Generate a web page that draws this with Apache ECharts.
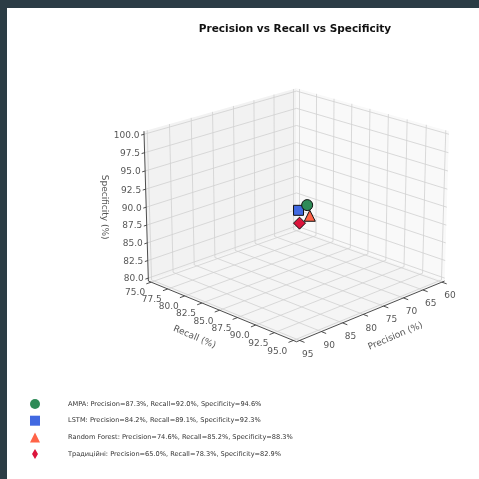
<!DOCTYPE html>
<html><head><meta charset="utf-8">
<script src="https://cdn.jsdelivr.net/npm/echarts@6/dist/echarts.min.js"></script>
<style>
html,body{margin:0;padding:0;background:#2b3c45;width:479px;height:479px;overflow:hidden}
#chart{position:absolute;left:7px;top:8px;width:472px;height:471px;background:#fff}
</style></head><body><div id="chart"></div>
<script>
// ---- data ----
const models = ['AMPA', 'LSTM', 'Random Forest', 'Традиційні'];
const precision = [87.3, 84.2, 74.6, 65.0];
const recall = [92.0, 89.1, 85.2, 78.3];
const specificity = [94.6, 92.3, 88.3, 82.9];
const precisionTicks = [60, 65, 70, 75, 80, 85, 90, 95];
const recallTicks = [75, 77.5, 80, 82.5, 85, 87.5, 90, 92.5, 95];
const specTicks = [80, 82.5, 85, 87.5, 90, 92.5, 95, 97.5, 100];
const P_LIM = [60, 95], R_LIM = [75, 95], S_LIM = [80, 100];

// ---- style ----
const colors = ['#2E8B57', '#4169E1', '#FF6347', '#DC143C'];
const symbols = ['circle', 'rect', 'triangle', 'diamond'];
const sizes = [11, 10, 11, 12];
const zOrder = [8, 6, 5, 7];
const legendIcons = ['circle', 'rect', 'triangle', 'path://M5,0L8,5L5,10L2,5Z'];
const FONT = 'DejaVu Sans';

// ---- 3D projection (matplotlib-like perspective view) ----
const DEG = Math.PI / 180;
const ELEV = 20, AZIM = 45, DIST = 10;
const BOX = [4, 4, 3].map(v => v * 1.8294640721620434 / Math.sqrt(41));
const SCALE = 186, CX = 296.5, CY = 207.2;
function padded(l) { const p = (l[1] - l[0]) / 48; return [l[0] - p, l[1] + p]; }
const PL = padded(P_LIM), RL = padded(R_LIM), SL = padded(S_LIM);
function frac(v, L) { return (v - L[0]) / (L[1] - L[0]) - 0.5; }
function proj(p, r, s) {
  const x = frac(p, PL) * BOX[0], y = frac(r, RL) * BOX[1], z = frac(s, SL) * BOX[2];
  const e = ELEV * DEG, a = AZIM * DEG;
  const ce = Math.cos(e), se = Math.sin(e), ca = Math.cos(a), sa = Math.sin(a);
  const depth = x * ce * ca + y * ce * sa + z * se;
  const f = DIST / (DIST - depth);
  const X = (-x * sa + y * ca) * f;
  const Y = (-x * se * ca - y * se * sa + z * ce) * f;
  return [CX + SCALE * X, CY - SCALE * Y];
}
const add = (a, d) => [a[0] + d[0], a[1] + d[1]];
const seg = (a, b) => ({ coords: [proj(...a), proj(...b)] });

// panes
const panes = [
  { pts: [[PL[0], RL[0], SL[0]], [PL[1], RL[0], SL[0]], [PL[1], RL[1], SL[0]], [PL[0], RL[1], SL[0]]], color: '#f5f5f5' },
  { pts: [[PL[0], RL[0], SL[0]], [PL[1], RL[0], SL[0]], [PL[1], RL[0], SL[1]], [PL[0], RL[0], SL[1]]], color: '#f2f2f2' },
  { pts: [[PL[0], RL[0], SL[0]], [PL[0], RL[1], SL[0]], [PL[0], RL[1], SL[1]], [PL[0], RL[0], SL[1]]], color: '#f9f9f9' }
];

// grid lines
const gridLines = [];
precisionTicks.forEach(p => {
  gridLines.push(seg([p, RL[0], SL[0]], [p, RL[0], SL[1]]));
  gridLines.push(seg([p, RL[0], SL[0]], [p, RL[1], SL[0]]));
});
recallTicks.forEach(r => {
  gridLines.push(seg([PL[0], r, SL[0]], [PL[0], r, SL[1]]));
  gridLines.push(seg([PL[0], r, SL[0]], [PL[1], r, SL[0]]));
});
specTicks.forEach(s => {
  gridLines.push(seg([PL[0], RL[0], s], [PL[1], RL[0], s]));
  gridLines.push(seg([PL[0], RL[0], s], [PL[0], RL[1], s]));
});

// axis lines & tick marks
const dP = (PL[1] - PL[0]) * 0.03, dR = (RL[1] - RL[0]) * 0.03;
const axisLines = [
  seg([PL[1], RL[0], SL[0]], [PL[1], RL[0], SL[1]]),
  seg([PL[1], RL[0], SL[0]], [PL[1], RL[1], SL[0]]),
  seg([PL[1], RL[1], SL[0]], [PL[0], RL[1], SL[0]])
];
const tickMarks = [];
specTicks.forEach(s => tickMarks.push(seg([PL[1], RL[0], s], [PL[1] + dP * 0.6, RL[0], s])));
recallTicks.forEach(r => tickMarks.push(seg([PL[1], r, SL[0]], [PL[1] + dP, r, SL[0]])));
precisionTicks.forEach(p => tickMarks.push(seg([p, RL[1], SL[0]], [p, RL[1] + dR, SL[0]])));

// tick labels
const zLabels = specTicks.map(s => ({ value: add(proj(PL[1], RL[0], s), [0, 1]), name: s.toFixed(1) }));
const rLabels = recallTicks.map(r => ({ value: add(proj(PL[1], r, SL[0]), [-16, 11]), name: r.toFixed(1) }));
const pLabels = precisionTicks.map(p => ({ value: add(proj(p, RL[1], SL[0]), [8, 14]), name: String(p) }));

const textSeries = (data, extra) => Object.assign({
  type: 'scatter', data, symbolSize: 1, silent: true, z: 3,
  itemStyle: { color: 'rgba(0,0,0,0)' },
  label: { show: true, position: 'inside', formatter: '{b}', color: '#2b2b2b', fontSize: 9, fontFamily: FONT }
}, extra || {});

const midR = (RL[0] + RL[1]) / 2, midP = (PL[0] + PL[1]) / 2, midS = (SL[0] + SL[1]) / 2;
const titleItems = [
  { value: add(proj(PL[1], RL[0], midS), [-42, 0]), name: 'Specificity (%)', rot: -90 },
  { value: add(proj(PL[1], midR, SL[0]), [-25, 27]), name: 'Recall (%)', rot: -23 },
  { value: add(proj(midP, RL[1], SL[0]), [22, 26]), name: 'Precision (%)', rot: 23 }
];

const series = [
  {
    type: 'custom', silent: true, clip: false, z: 1,
    data: panes.map((_, i) => [i, i]),
    renderItem: (params, api) => {
      const pn = panes[params.dataIndex];
      return { type: 'polygon', shape: { points: pn.pts.map(c => api.coord(proj(...c))) },
        style: { fill: pn.color } };
    }
  },
  { type: 'lines', coordinateSystem: 'cartesian2d', silent: true, z: 2, data: gridLines,
    lineStyle: { color: '#d0d0d0', width: 0.8, opacity: 1 } },
  { type: 'lines', coordinateSystem: 'cartesian2d', silent: true, z: 2, data: axisLines.concat(tickMarks),
    lineStyle: { color: '#3a3a3a', width: 0.9, opacity: 1 } },
  textSeries(zLabels, { label: { show: true, position: 'left', distance: 4, formatter: '{b}', color: '#2b2b2b', fontSize: 9, fontFamily: FONT } }),
  textSeries(rLabels),
  textSeries(pLabels),
  textSeries(titleItems.map(t => ({ value: t.value, name: t.name, label: { rotate: t.rot } })))
];
models.forEach((m, i) => {
  series.push({
    type: 'scatter', name: m, symbol: symbols[i], symbolSize: sizes[i], z: zOrder[i],
    data: [proj(precision[i], recall[i], specificity[i])],
    itemStyle: { color: colors[i], borderColor: '#111', borderWidth: 1, opacity: 1 }
  });
});

const chart = echarts.init(document.getElementById('chart'));
chart.setOption({
  animation: false,
  backgroundColor: '#ffffff',
  title: { text: 'Precision vs Recall vs Specificity', left: 283, top: 11, textAlign: 'center',
    textStyle: { fontFamily: FONT, fontSize: 10.5, fontWeight: 'bold', color: '#111' } },
  grid: { left: 0, top: 0, right: 0, bottom: 0 },
  xAxis: { type: 'value', min: 7, max: 479, show: false },
  yAxis: { type: 'value', min: 8, max: 479, inverse: true, show: false },
  legend: {
    orient: 'vertical', left: 18, top: 386, itemWidth: 10, itemHeight: 10, itemGap: 6.7,
    selectedMode: false,
    data: models.map((m, i) => ({ name: m, icon: legendIcons[i] })),
    formatter: name => {
      const i = models.indexOf(name);
      return `${name}: Precision=${precision[i].toFixed(1)}%, Recall=${recall[i].toFixed(1)}%, Specificity=${specificity[i].toFixed(1)}%`;
    },
    itemStyle: { borderWidth: 0 },
    textStyle: { fontFamily: FONT, fontSize: 6.6, color: '#333', padding: [9, 0, 0, 23] }
  },
  series
});
</script></body></html>
